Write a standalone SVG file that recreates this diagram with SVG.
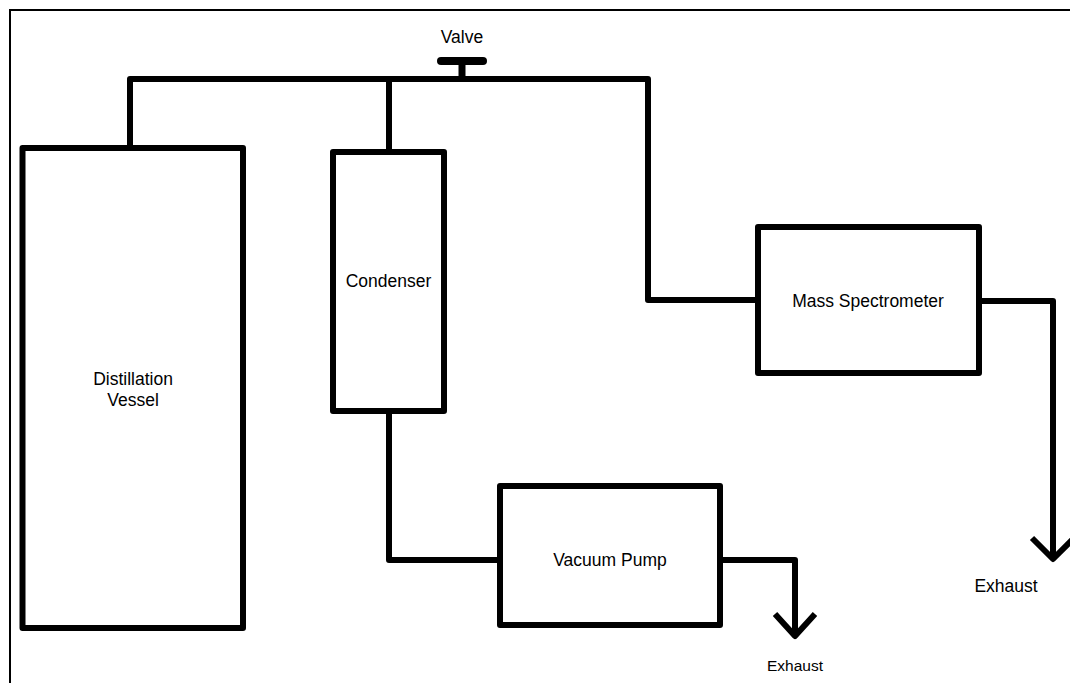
<svg xmlns="http://www.w3.org/2000/svg" width="1070" height="683" viewBox="0 0 1070 683">
<style>
.box{fill:#fff;stroke:#000;stroke-width:6;stroke-linejoin:round}
.pipe{fill:none;stroke:#000;stroke-width:6;stroke-linejoin:round}
.lbl{font-family:"Liberation Sans",Arial,sans-serif;font-size:17.5px;fill:#000;text-anchor:middle}
</style>
<rect width="1070" height="683" fill="#fff"/>
<path d="M10 683 V10 H1070" fill="none" stroke="#000" stroke-width="2"/>
<g id="connectors">
<path class="pipe" d="M130 148 V79 H648 V300 H758"/>
<path class="pipe" d="M389 79 V152"/>
<path class="pipe" d="M389 411 V560 H500"/>
<path class="pipe" d="M720 560 H795 V636"/>
<path class="pipe" d="M775 614 L795 636 L815 614"/>
<path class="pipe" d="M979 301 H1053 V559"/>
<path class="pipe" d="M1032 538 L1053 559 L1074 538"/>
</g>
<g id="valve">
<path d="M462 79 V61" stroke="#000" stroke-width="7" fill="none"/>
<path d="M441 61 H483" stroke="#000" stroke-width="8" stroke-linecap="round" fill="none"/>
<text class="lbl" x="462" y="43">Valve</text>
</g>
<g id="distillation-vessel">
<rect class="box" x="22.5" y="148" width="220.5" height="480"/>
<text class="lbl" x="133" y="385">Distillation</text>
<text class="lbl" x="133" y="406">Vessel</text>
</g>
<g id="condenser">
<rect class="box" x="333" y="152" width="111" height="259"/>
<text class="lbl" x="388.5" y="287">Condenser</text>
</g>
<g id="mass-spectrometer">
<rect class="box" x="758" y="227" width="221" height="146"/>
<text class="lbl" x="868" y="307">Mass Spectrometer</text>
</g>
<g id="vacuum-pump">
<rect class="box" x="500" y="486" width="220" height="139"/>
<text class="lbl" x="610" y="566">Vacuum Pump</text>
</g>
<g id="exhaust-labels">
<text class="lbl" x="1006" y="592">Exhaust</text>
<text class="lbl" x="795" y="671" style="font-size:15.5px">Exhaust</text>
</g>
</svg>
